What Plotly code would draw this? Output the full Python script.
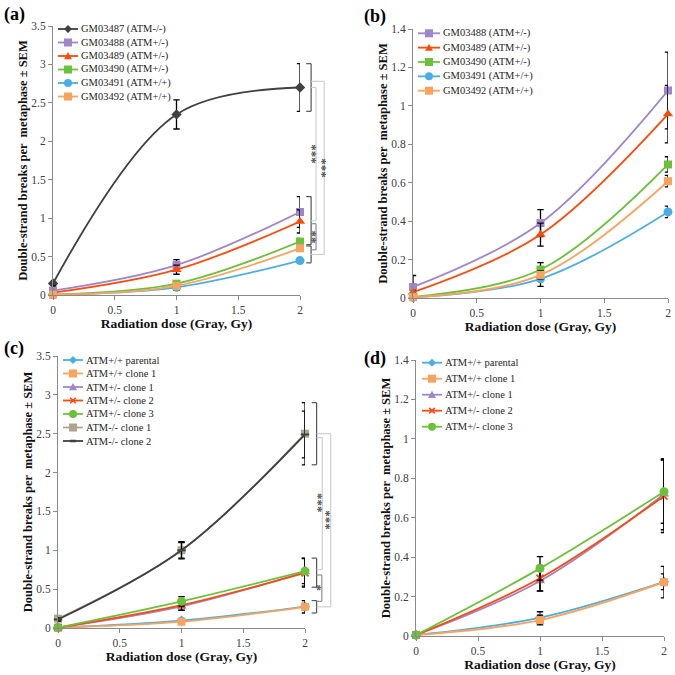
import plotly.graph_objects as go

FONT = "Liberation Serif"

dose = [0, 1, 2]
x_ticks = [0, 0.5, 1, 1.5, 2]

# ---------- Panels (a) and (b): lymphoblastoid lines ----------
gm_names = ["GM03487 (ATM-/-)", "GM03488 (ATM+/-)", "GM03489 (ATM+/-)",
            "GM03490 (ATM+/-)", "GM03491 (ATM+/+)", "GM03492 (ATM+/+)"]
gm03487 = [0.15, 2.35, 2.70]
gm03487_err = [0.02, 0.19, 0.31]
gm03488 = [0.057, 0.39, 1.08]
gm03488_err = [0.06, 0.07, 0.20]
gm03489 = [0.03, 0.33, 0.957]
gm03489_err = [0.01, 0.06, 0.15]
gm03490 = [0.006, 0.148, 0.695]
gm03490_err = [0.004, 0.036, 0.04]
gm03491 = [0.003, 0.10, 0.448]
gm03491_err = [0.003, 0.04, 0.03]
gm03492 = [0.004, 0.12, 0.608]
gm03492_err = [0.003, 0.02, 0.03]

# ---------- Panels (c) and (d): engineered clones ----------
cl_names = ["ATM+/+ parental", "ATM+/+ clone 1", "ATM+/- clone 1", "ATM+/- clone 2",
            "ATM+/- clone 3", "ATM-/- clone 1", "ATM-/- clone 2"]
parental = [0.005, 0.093, 0.275]
parental_err = [0.003, 0.03, 0.04]
wt_clone1 = [0.005, 0.081, 0.273]
wt_clone1_err = [0.003, 0.025, 0.08]
het_clone1 = [0.005, 0.279, 0.719]
het_clone1_err = [0.003, 0.05, 0.18]
het_clone2 = [0.005, 0.293, 0.71]
het_clone2_err = [0.003, 0.065, 0.185]
het_clone3 = [0.005, 0.343, 0.732]
het_clone3_err = [0.003, 0.06, 0.16]
ko_clone1 = [0.12, 1.0, 2.50]
ko_clone1_err = [0.02, 0.11, 0.40]
ko_clone2 = [0.11, 1.0, 2.49]
ko_clone2_err = [0.02, 0.10, 0.30]

C_BLACK = "#404040"
C_PURPLE = "#9f85c9"
C_RED = "#fa4b0c"
C_GREEN = "#6cc13c"
C_BLUE = "#4aaee4"
C_ORANGE = "#f8a35e"
C_TAN = "#ada58e"

W = 675.0
fig = go.Figure()
shapes = []
annotations = []


def add_series(name, y, err, color, symbol, size, xa, ya, mline=None):
    marker = dict(symbol=symbol, size=size, color=color)
    if mline:
        marker["line"] = dict(color=color, width=mline)
    fig.add_trace(go.Scatter(
        x=dose, y=y, name=name, mode="lines+markers",
        line=dict(shape="spline", smoothing=1, color=color, width=1.8),
        marker=marker,
        error_y=dict(type="data", array=err, color="black", thickness=1.3, width=3.2),
        cliponaxis=False, xaxis=xa, yaxis=ya, showlegend=False))


a_series = [
    (gm03487, gm03487_err, C_BLACK, "diamond", 8, None),
    (gm03488, gm03488_err, C_PURPLE, "square", 8, None),
    (gm03489, gm03489_err, C_RED, "triangle-up", 9, None),
    (gm03490, gm03490_err, C_GREEN, "square", 8, None),
    (gm03491, gm03491_err, C_BLUE, "circle", 9, None),
    (gm03492, gm03492_err, C_ORANGE, "square", 8, None),
]
c_series = [
    (parental, parental_err, C_BLUE, "diamond", 8, None),
    (wt_clone1, wt_clone1_err, C_ORANGE, "square", 8, None),
    (het_clone1, het_clone1_err, C_PURPLE, "triangle-up", 9, None),
    (het_clone2, het_clone2_err, C_RED, "x-thin", 7, 1.8),
    (het_clone3, het_clone3_err, C_GREEN, "circle", 9, None),
    (ko_clone1, ko_clone1_err, C_TAN, "square", 8, None),
    (ko_clone2, ko_clone2_err, C_BLACK, "line-ew", 6, 2),
]
for nm, (y, e, c, s, sz, ml) in zip(gm_names, a_series):
    add_series(nm, y, e, c, s, sz, "x", "y", ml)
for nm, (y, e, c, s, sz, ml) in zip(gm_names[1:], a_series[1:]):
    add_series(nm, y, e, c, s, sz, "x2", "y2", ml)
for nm, (y, e, c, s, sz, ml) in zip(cl_names, c_series):
    add_series(nm, y, e, c, s, sz, "x3", "y3", ml)
for nm, (y, e, c, s, sz, ml) in zip(cl_names[:5], c_series[:5]):
    add_series(nm, y, e, c, s, sz, "x4", "y4", ml)

# ---------- axes ----------
px_dom = {
    "a": ((53, 300), (26, 295)),
    "b": ((413, 668), (29, 298)),
    "c": ((58, 305), (356, 628)),
    "d": ((416, 664), (360, 636)),
}
ytitle = "<b>Double-strand breaks per  metaphase ± SEM</b>"
xtitle = "<b>Radiation dose (Gray, Gy)</b>"

axis_style = dict(showline=True, linecolor="#8a8a8a", linewidth=1, ticks="outside",
                  ticklen=4, tickcolor="#8a8a8a", showgrid=False, zeroline=False,
                  automargin=False,
                  tickfont=dict(family=FONT, size=11.5, color="#404040"))

layout_axes = {}
for i, (key, ymax, dy) in enumerate([("a", 3.5, 0.5), ("b", 1.4, 0.2),
                                      ("c", 3.5, 0.5), ("d", 1.4, 0.2)]):
    (x0, x1), (yt, yb) = px_dom[key]
    sfx = "" if i == 0 else str(i + 1)
    layout_axes["xaxis" + sfx] = dict(
        axis_style, domain=[x0 / W, x1 / W], range=[0, 2], tickvals=x_ticks,
        anchor="y" + sfx,
        title=dict(text=xtitle, font=dict(family=FONT, size=13.5, color="#111"), standoff=0))
    layout_axes["yaxis" + sfx] = dict(
        axis_style, domain=[1 - yb / W, 1 - yt / W], range=[0, ymax], dtick=dy,
        anchor="x" + sfx,
        title=dict(text=ytitle, font=dict(family=FONT, size=12.5, color="#111"), standoff=0))


# ---------- compact legends (keys drawn as shapes, labels as text) ----------
def P(xp, yp):
    return xp / W, 1 - yp / W


def key_marker(cx, cy, color, symbol, size):
    h = size / 2.0
    if symbol == "square":
        x0, y0 = P(cx - h, cy + h)
        x1, y1 = P(cx + h, cy - h)
        shapes.append(dict(type="rect", xref="paper", yref="paper", x0=x0, y0=y0,
                           x1=x1, y1=y1, fillcolor=color, line=dict(width=0)))
    elif symbol == "circle":
        x0, y0 = P(cx - h, cy + h)
        x1, y1 = P(cx + h, cy - h)
        shapes.append(dict(type="circle", xref="paper", yref="paper", x0=x0, y0=y0,
                           x1=x1, y1=y1, fillcolor=color, line=dict(width=0)))
    elif symbol in ("diamond", "triangle-up"):
        if symbol == "diamond":
            pts = [(cx, cy - h), (cx + h, cy), (cx, cy + h), (cx - h, cy)]
        else:
            pts = [(cx, cy - h), (cx + h, cy + h * 0.8), (cx - h, cy + h * 0.8)]
        path = "M " + " L ".join("%.5f,%.5f" % P(a, b) for a, b in pts) + " Z"
        shapes.append(dict(type="path", xref="paper", yref="paper", path=path,
                           fillcolor=color, line=dict(width=0)))
    elif symbol == "x-thin":
        for (a0, b0, a1, b1) in [(cx - h * 0.8, cy - h * 0.8, cx + h * 0.8, cy + h * 0.8),
                                 (cx - h * 0.8, cy + h * 0.8, cx + h * 0.8, cy - h * 0.8)]:
            x0, y0 = P(a0, b0)
            x1, y1 = P(a1, b1)
            shapes.append(dict(type="line", xref="paper", yref="paper", x0=x0, y0=y0,
                               x1=x1, y1=y1, line=dict(color=color, width=1.6)))
    elif symbol == "line-ew":
        x0, y0 = P(cx - h, cy)
        x1, y1 = P(cx + h, cy)
        shapes.append(dict(type="line", xref="paper", yref="paper", x0=x0, y0=y0,
                           x1=x1, y1=y1, line=dict(color=color, width=2.5)))


def legend_block(names, styles, lx0, lx1, tx, y0, step):
    for k, (nm, st) in enumerate(zip(names, styles)):
        color, symbol, size = st[2], st[3], min(st[4], 8)
        yc = y0 + k * step
        x0, yy = P(lx0, yc)
        x1, _ = P(lx1, yc)
        shapes.append(dict(type="line", xref="paper", yref="paper", x0=x0, y0=yy,
                           x1=x1, y1=yy, line=dict(color=color, width=1.8)))
        key_marker((lx0 + lx1) / 2.0, yc, color, symbol, size)
        xt, yt = P(tx, yc)
        annotations.append(dict(xref="paper", yref="paper", x=xt, y=yt, xanchor="left",
                                yanchor="middle", text=nm, showarrow=False,
                                font=dict(family=FONT, size=10.5, color="#262626")))


legend_block(gm_names, a_series, 58, 78, 79, 29, 13.5)
legend_block(gm_names[1:], a_series[1:], 418, 440, 441, 33.3, 14.35)
legend_block(cl_names, c_series, 63, 83, 84, 360, 13.5)
legend_block(cl_names[:5], c_series[:5], 422, 442, 443, 362.7, 16)

# ---------- significance brackets ----------
DARK = "#555555"
LIGHT = "#cfcfcf"
MID = "#8f8f8f"


def seg(xa, ya, x0, y0, x1, y1, color, w=1.2):
    shapes.append(dict(type="line", xref=xa + " domain", yref=ya, x0=x0, x1=x1,
                       y0=y0, y1=y1, line=dict(color=color, width=w)))


def bracket(xa, ya, x, tick, top, bottom, color=DARK):
    seg(xa, ya, x, top, x, bottom, color)
    seg(xa, ya, x - tick, top, x, top, color)
    seg(xa, ya, x - tick, bottom, x, bottom, color)


def connector(xa, ya, xs, x, top, bottom, color):
    seg(xa, ya, x, top, x, bottom, color)
    seg(xa, ya, xs, top, x, top, color)
    seg(xa, ya, xs, bottom, x, bottom, color)


def stars(xa, ya, x, y, text):
    annotations.append(dict(xref=xa + " domain", yref=ya, x=x, y=y, text="<b>%s</b>" % text,
                            showarrow=False, textangle=90,
                            font=dict(family=FONT, size=13, color=DARK)))


def group_range(groups):
    tops = [v[2] + e[2] for v, e in groups]
    bots = [v[2] - e[2] for v, e in groups]
    return max(tops), min(bots)


# panel (a)
t1, b1 = group_range([(gm03487, gm03487_err)])
t2, b2 = group_range([(gm03488, gm03488_err), (gm03489, gm03489_err), (gm03490, gm03490_err)])
t3, b3 = group_range([(gm03491, gm03491_err), (gm03492, gm03492_err)])
m1, m2, m3 = (t1 + b1) / 2, (t2 + b2) / 2, (t3 + b3) / 2
bx, tk = 1.045, 0.02
bracket("x", "y", bx, tk, t1, b1)
bracket("x", "y", bx, tk, t2, b2)
bracket("x", "y", bx, tk, t3, b3)
connector("x", "y", bx, 1.065, m1, m2, LIGHT)
connector("x", "y", bx, 1.098, m1 + 0.08, m3, LIGHT)
connector("x", "y", bx, 1.065, m2 - 0.04, m3 + 0.06, MID)
stars("x", "y", 1.09, (m1 + m2) / 2, "***")
stars("x", "y", 1.126, (m1 + 0.08 + m3) / 2, "***")
stars("x", "y", 1.088, (m2 + m3) / 2 + 0.01, "**")

# panel (c)
t1, b1 = group_range([(ko_clone1, ko_clone1_err), (ko_clone2, ko_clone2_err)])
t2, b2 = group_range([(het_clone1, het_clone1_err), (het_clone2, het_clone2_err),
                      (het_clone3, het_clone3_err)])
t3, b3 = group_range([(parental, parental_err), (wt_clone1, wt_clone1_err)])
m1, m2, m3 = (t1 + b1) / 2, (t2 + b2) / 2, (t3 + b3) / 2
bx, tk = 1.047, 0.02
bracket("x3", "y3", bx, tk, t1, b1)
bracket("x3", "y3", bx, tk, t2, b2)
bracket("x3", "y3", bx, tk, t3, b3)
connector("x3", "y3", bx, 1.07, m1 - 0.05, m2 + 0.04, LIGHT)
connector("x3", "y3", bx, 1.104, m1, m3, LIGHT)
connector("x3", "y3", bx, 1.068, m2 - 0.03, m3 + 0.07, MID)
stars("x3", "y3", 1.093, (m1 - 0.05 + m2 + 0.04) / 2, "***")
stars("x3", "y3", 1.128, (m1 + m3) / 2, "***")
stars("x3", "y3", 1.09, (m2 + m3) / 2 + 0.02, "*")

# panel letters
for lab, (xp, yp) in zip(["(a)", "(b)", "(c)", "(d)"],
                         [(2, 2), (362, 4), (2, 336), (362, 346)]):
    annotations.append(dict(xref="paper", yref="paper", x=xp / W, y=1 - yp / W,
                            xanchor="left", yanchor="top", text="<b>%s</b>" % lab,
                            showarrow=False,
                            font=dict(family=FONT, size=18, color="#000")))

fig.update_layout(
    width=675, height=675, margin=dict(l=0, r=0, t=0, b=0, autoexpand=False),
    paper_bgcolor="white", plot_bgcolor="white", showlegend=False,
    shapes=shapes, annotations=annotations, **layout_axes)

fig.write_html("out.html", config={"displayModeBar": False},
               post_script="document.body.style.margin='0px';document.body.style.overflow='hidden';")
